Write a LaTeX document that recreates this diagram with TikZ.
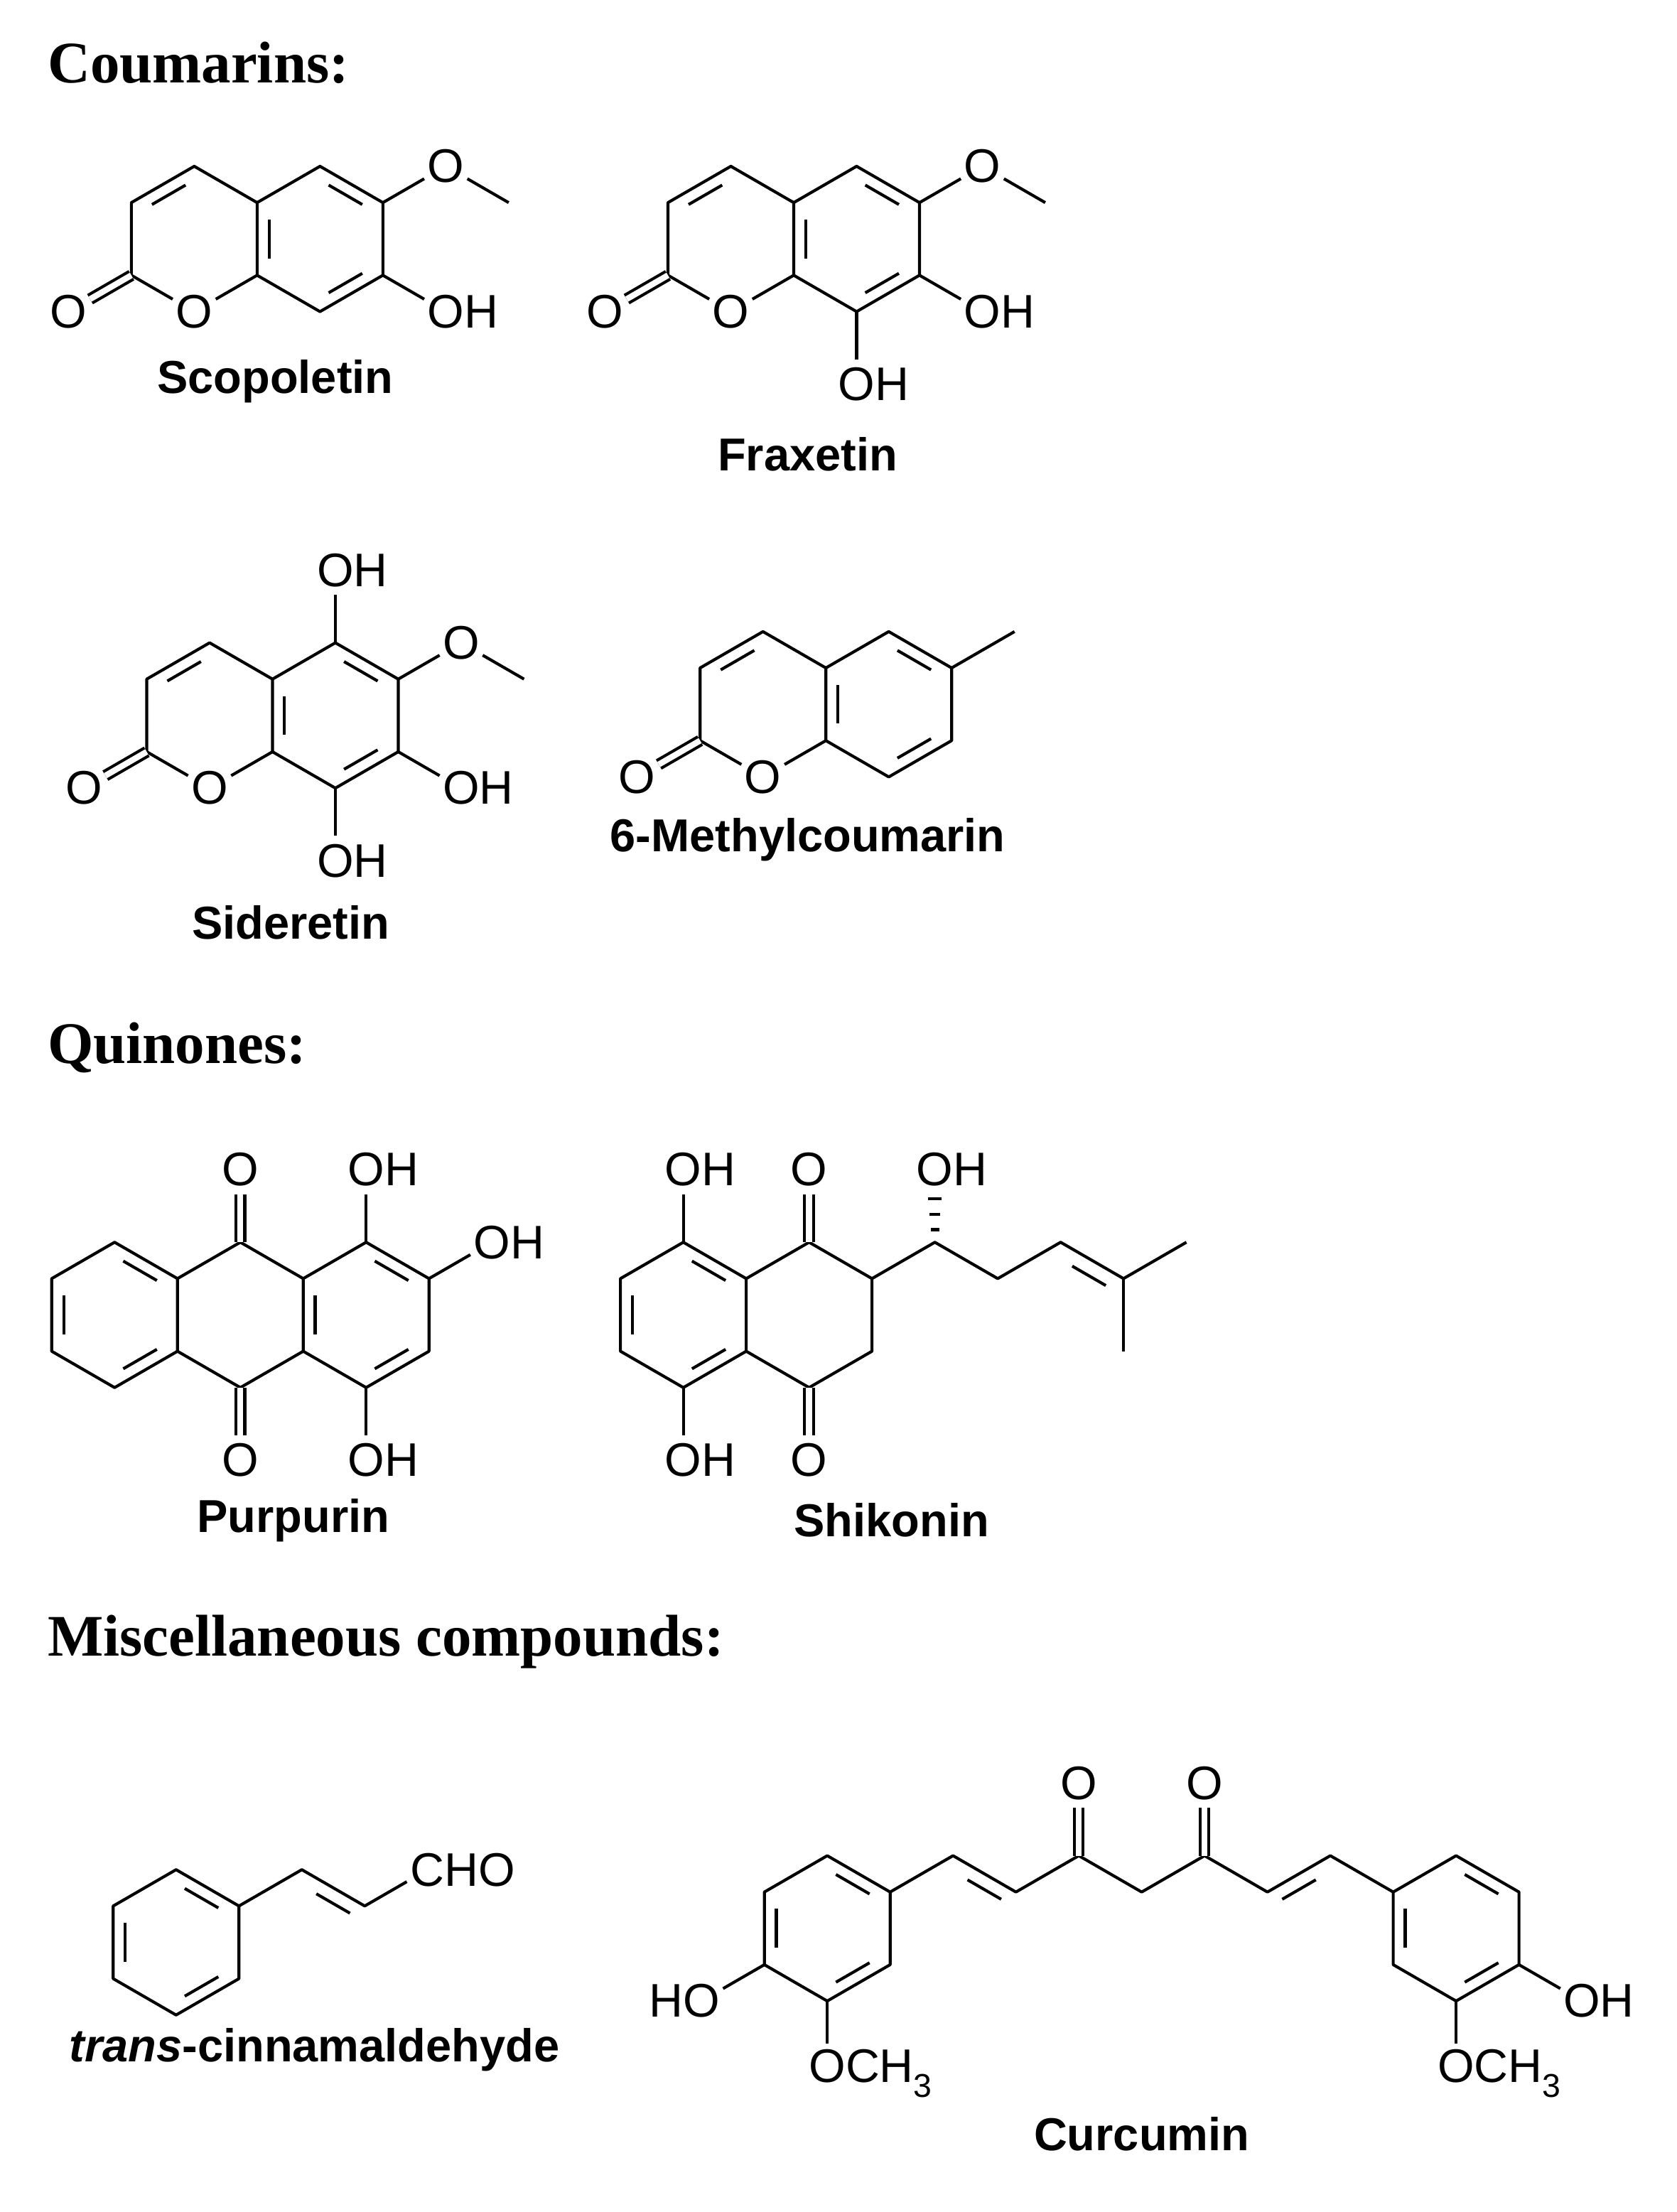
\documentclass[tikz,border=0pt]{standalone}
\usepackage{fontspec}
\setmainfont{Liberation Sans}
\newfontfamily\hdrfont{Liberation Serif}
\usetikzlibrary{calc}
\tikzset{bond/.style={line width=3pt,line join=round},
dbl/.style={line width=3pt,double,double distance=6pt},
atom/.style={circle,inner sep=0pt,font=\fontsize{48}{48}\selectfont},
cname/.style={font=\fontsize{47}{47}\selectfont\bfseries,inner sep=0pt},
hdr/.style={font=\fontsize{60}{60}\selectfont\hdrfont\bfseries,anchor=west,inner sep=0pt}}
\newcommand\dbi[3]{\draw[bond] ($(#1)!0.17!(#2)!0.19!(#3)$) -- ($(#1)!0.83!(#2)!0.19!(#3)$);}
\newcommand\hexpts[3]{%
\coordinate (#1c) at (#2,#3);
\coordinate (#1t) at (#2,#3-52);
\coordinate (#1tr) at (#2+45,#3-26);
\coordinate (#1br) at (#2+45,#3+26);
\coordinate (#1b) at (#2,#3+52);
\coordinate (#1bl) at (#2-45,#3+26);
\coordinate (#1tl) at (#2-45,#3-26);}
\newcommand\hexr[3]{\hexpts{#1}{#2}{#3}\draw[bond] (#1t)--(#1tr)--(#1br)--(#1b)--(#1bl)--(#1tl)--cycle;}
\newcommand\benz[3]{\hexr{#1}{#2}{#3}\dbi{#1t}{#1tr}{#1c}\dbi{#1tl}{#1bl}{#1c}\dbi{#1br}{#1b}{#1c}}
\newcommand\coumarin[3]{%
\hexpts{#1L}{#2}{#3}\hexpts{#1R}{#2+90}{#3}
\node[atom] (#1O1) at (#1Lb) {O};
\node[atom] (#1Oc) at ($(#1Lbl)+(-45,26)$) {O};
\draw[bond] (#1O1) -- (#1Lbl) -- (#1Ltl) -- (#1Lt) -- (#1Ltr) -- (#1Lbr) -- (#1O1);
\draw[bond] (#1Ltr)--(#1Rt)--(#1Rtr)--(#1Rbr)--(#1Rb)--(#1Lbr);
\draw[dbl] (#1Lbl) -- (#1Oc);
\dbi{#1Ltl}{#1Lt}{#1Lc}\dbi{#1Ltr}{#1Lbr}{#1Rc}\dbi{#1Rt}{#1Rtr}{#1Rc}\dbi{#1Rbr}{#1Rb}{#1Rc}}
\begin{document}
\begin{tikzpicture}[x=0.05cm,y=-0.05cm]
\fill[white] (0,0) rectangle (1200,1583);
\useasboundingbox (0,0) rectangle (1200,1583);
% headers
\node[hdr] (h1) at (34,45) {Coumarins:};
\node[hdr] (h2) at (34,750) {Quinones:};
\node[hdr] (h3) at (34,1175) {Miscellaneous compounds:};
% Scopoletin
\coumarin{s}{139}{171}
\node[atom] (sOm) at ($(sRtr)+(45,-26)$) {O};
\coordinate (sMe) at ($(sOm)+(45,26)$);
\draw[bond] (sRtr)--(sOm)--(sMe);
\node[atom] (sOH) at ($(sRbr)+(45,26)$) {O\rlap{H}};
\draw[bond] (sRbr)--(sOH);
\node[cname] (sn) at (197,273) {Scopoletin};
% Fraxetin
\coumarin{f}{523}{171}
\node[atom] (fOm) at ($(fRtr)+(45,-26)$) {O};
\coordinate (fMe) at ($(fOm)+(45,26)$);
\draw[bond] (fRtr)--(fOm)--(fMe);
\node[atom] (fOH) at ($(fRbr)+(45,26)$) {O\rlap{H}};
\draw[bond] (fRbr)--(fOH);
\node[atom] (fOH2) at ($(fRb)+(0,52)$) {O\rlap{H}};
\draw[bond] (fRb)--(fOH2);
\node[cname] (fn) at (578,325) {Fraxetin};
% Sideretin
\coumarin{d}{150}{512}
\node[atom] (dOm) at ($(dRtr)+(45,-26)$) {O};
\coordinate (dMe) at ($(dOm)+(45,26)$);
\draw[bond] (dRtr)--(dOm)--(dMe);
\node[atom] (dOH) at ($(dRbr)+(45,26)$) {O\rlap{H}};
\draw[bond] (dRbr)--(dOH);
\node[atom] (dOH2) at ($(dRb)+(0,52)$) {O\rlap{H}};
\draw[bond] (dRb)--(dOH2);
\node[atom] (dOH3) at ($(dRt)+(0,-52)$) {O\rlap{H}};
\draw[bond] (dRt)--(dOH3);
\node[cname] (dn) at (208,660) {Sideretin};
% 6-Methylcoumarin
\coumarin{m}{546}{504}
\coordinate (mMe) at ($(mRtr)+(45,-26)$);
\draw[bond] (mRtr)--(mMe);
\node[cname] (mn) at (578,601) {6-Methylcoumarin};
% Purpurin
\benz{pA}{82}{941}
\hexpts{pB}{172}{941}\hexpts{pC}{262}{941}
\draw[bond] (pBtl)--(pBt)--(pBtr);
\draw[bond] (pBbl)--(pBb)--(pBbr);
\draw[bond] (pCtl)--(pCt)--(pCtr)--(pCbr)--(pCb)--(pCbl)--cycle;
\dbi{pCt}{pCtr}{pCc}\dbi{pCbr}{pCb}{pCc}\dbi{pCtl}{pCbl}{pCc}
\node[atom] (pO1) at ($(pBt)+(0,-52)$) {O};
\node[atom] (pO2) at ($(pBb)+(0,52)$) {O};
\draw[dbl] (pBt)--(pO1); \draw[dbl] (pBb)--(pO2);
\node[atom] (pOH1) at ($(pCt)+(0,-52)$) {O\rlap{H}};
\node[atom] (pOH2) at ($(pCtr)+(45,-26)$) {O\rlap{H}};
\node[atom] (pOH3) at ($(pCb)+(0,52)$) {O\rlap{H}};
\draw[bond] (pCt)--(pOH1); \draw[bond] (pCtr)--(pOH2); \draw[bond] (pCb)--(pOH3);
\node[cname] (pn) at (210,1088) {Purpurin};
% Shikonin
\benz{kA}{489}{941}
\hexpts{kB}{579}{941}
\draw[bond] (kBtl)--(kBt)--(kBtr)--(kBbr)--(kBb)--(kBbl);
\node[atom] (kOH1) at ($(kAt)+(0,-52)$) {O\rlap{H}};
\node[atom] (kOH2) at ($(kAb)+(0,52)$) {O\rlap{H}};
\draw[bond] (kAt)--(kOH1); \draw[bond] (kAb)--(kOH2);
\node[atom] (kO1) at ($(kBt)+(0,-52)$) {O};
\node[atom] (kO2) at ($(kBb)+(0,52)$) {O};
\draw[dbl] (kBt)--(kO1); \draw[dbl] (kBb)--(kO2);
\coordinate (kc1) at (669,889);
\coordinate (kc2) at (714,915);
\coordinate (kc3) at (759,889);
\coordinate (kc4) at (804,915);
\coordinate (km1) at (849,889);
\coordinate (km2) at (804,967);
\draw[bond] (kBtr)--(kc1)--(kc2)--(kc3)--(kc4)--(km1);
\draw[bond] (kc4)--(km2);
\coordinate (kref) at (770,960);
\dbi{kc3}{kc4}{kref}
\node[atom] (kOH3) at (669,837) {O\rlap{H}};
\draw[bond] (666,880)--(672,880);
\draw[bond] (665,869)--(673,869);
\draw[bond] (664,858)--(674,858);
\node[cname] (kn) at (638,1088) {Shikonin};
% trans-cinnamaldehyde
\benz{cA}{126}{1390}
\coordinate (cc1) at (216,1338);
\coordinate (cc2) at (261,1364);
\node[atom] (cCHO) at (306,1338) {C\rlap{HO}};
\draw[bond] (cAtr)--(cc1)--(cc2)--(cCHO);
\coordinate (cref) at (238,1410);
\dbi{cc1}{cc2}{cref}
\node[cname] (cn) at (225,1467) {\textit{trans}-cinnamaldehyde};
% Curcumin
\benz{uA}{592}{1380}
\benz{uB}{1042}{1380}
\coordinate (u1) at (682,1328);
\coordinate (u2) at (727,1354);
\coordinate (u3) at (772,1328);
\coordinate (u4) at (817,1354);
\coordinate (u5) at (862,1328);
\coordinate (u6) at (907,1354);
\coordinate (u7) at (952,1328);
\draw[bond] (uAtr)--(u1)--(u2)--(u3)--(u4)--(u5)--(u6)--(u7)--(uBtl);
\coordinate (ur1) at (704,1400);
\coordinate (ur2) at (930,1400);
\dbi{u1}{u2}{ur1}\dbi{u6}{u7}{ur2}
\node[atom] (uO1) at (772,1276) {O};
\node[atom] (uO2) at (862,1276) {O};
\draw[dbl] (u3)--(uO1); \draw[dbl] (u5)--(uO2);
\node[atom] (uHO) at ($(uAbl)+(-45,26)$) {\llap{H}O};
\node[atom] (uM1) at ($(uAb)+(0,52)$) {O\rlap{CH\textsubscript{3}}};
\draw[bond] (uAbl)--(uHO); \draw[bond] (uAb)--(uM1);
\node[atom] (uOH) at ($(uBbr)+(45,26)$) {O\rlap{H}};
\node[atom] (uM2) at ($(uBb)+(0,52)$) {O\rlap{CH\textsubscript{3}}};
\draw[bond] (uBbr)--(uOH); \draw[bond] (uBb)--(uM2);
\node[cname] (un) at (817,1527) {Curcumin};
\end{tikzpicture}
\end{document}
